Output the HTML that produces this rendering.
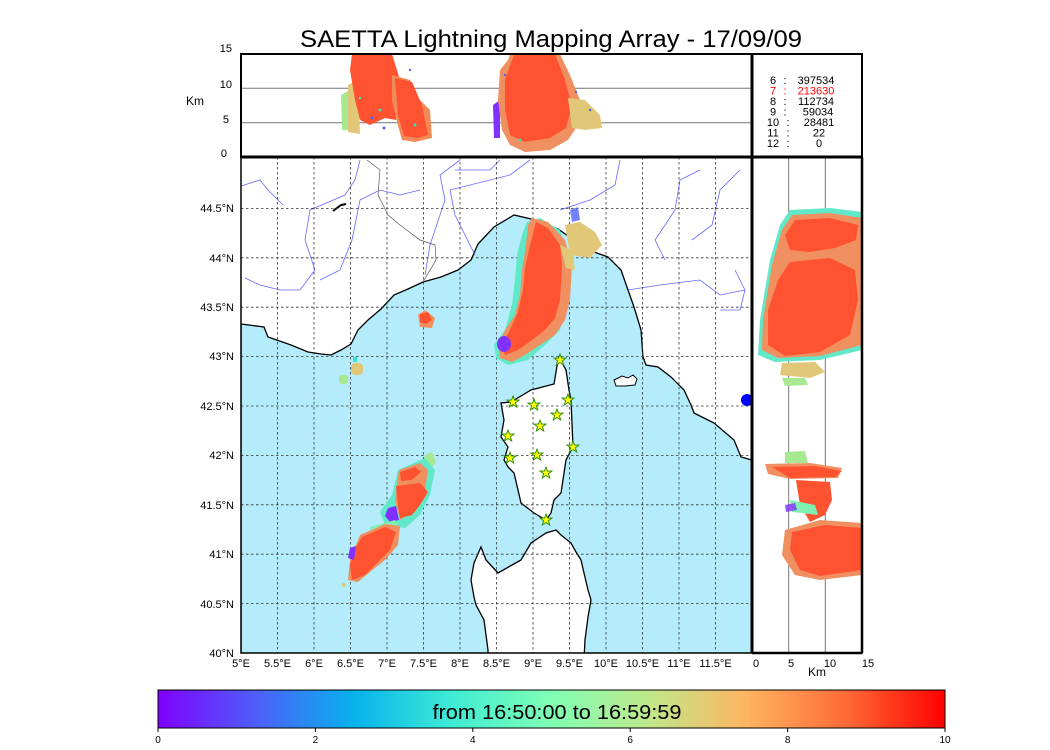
<!DOCTYPE html>
<html><head><meta charset="utf-8"><style>
html,body{margin:0;padding:0;background:#fff;}
svg{display:block;font-family:"Liberation Sans",sans-serif;}
</style></head><body>
<svg width="1050" height="750" viewBox="0 0 1050 750" xmlns="http://www.w3.org/2000/svg">
<defs>
<linearGradient id="rb" x1="0" x2="1" y1="0" y2="0">
<stop offset="0" stop-color="#8000ff"/><stop offset="0.125" stop-color="#4d5ffa"/>
<stop offset="0.25" stop-color="#06b3ec"/><stop offset="0.375" stop-color="#40ecd4"/>
<stop offset="0.5" stop-color="#80ffb4"/><stop offset="0.625" stop-color="#c0e88a"/>
<stop offset="0.75" stop-color="#ffb360"/><stop offset="0.875" stop-color="#ff6a35"/>
<stop offset="1" stop-color="#ff0000"/></linearGradient>
<clipPath id="cm"><rect x="241" y="157" width="511" height="496"/></clipPath>
<clipPath id="ct"><rect x="241" y="54" width="511" height="103"/></clipPath>
<clipPath id="cr"><rect x="752" y="157" width="110" height="496"/></clipPath>
</defs>
<text x="551" y="47" font-size="24.5" text-anchor="middle" textLength="502" lengthAdjust="spacingAndGlyphs">SAETTA Lightning Mapping Array - 17/09/09</text>

<!-- TOP PANEL -->
<g clip-path="url(#ct)">
<line x1="241" x2="752" y1="122.7" y2="122.7" stroke="#777" stroke-width="1"/>
<line x1="241" x2="752" y1="88.3" y2="88.3" stroke="#777" stroke-width="1"/>
<polygon points="341,95 350,90 352,130 342,130" fill="#a8e890"/>
<polygon points="348,85 358,80 360,134 348,132" fill="#e0c878"/>
<polygon points="352,54 392,54 400,80 396,120 385,118 370,125 360,120 355,100 350,70" fill="#ff5230"/>
<polygon points="392,75 410,80 420,100 430,110 432,138 415,142 402,140 396,118 392,100" fill="#f08a58"/>
<polygon points="395,78 412,82 422,105 428,135 418,138 404,136 398,115" fill="#ff5230"/>
<polygon points="493,105 500,100 500,138 494,138" fill="#8030ff"/>
<polygon points="500,70 508,60 510,54 560,54 570,75 580,100 578,125 568,140 550,150 525,152 510,145 502,130 498,100" fill="#f09060"/>
<polygon points="505,80 512,60 515,54 555,54 565,80 572,105 566,128 550,138 525,142 510,135 505,110" fill="#ff5230"/>
<polygon points="568,98 585,100 600,115 602,128 585,130 572,128" fill="#e0c878"/>
<g fill="#5060ff"><circle cx="505" cy="75" r="1.2"/><circle cx="576" cy="92" r="1.2"/><circle cx="590" cy="110" r="1.2"/><circle cx="372" cy="118" r="1.5"/><circle cx="410" cy="70" r="1.2"/><circle cx="384" cy="128" r="1.5"/></g>
<g fill="#40e0c0"><circle cx="380" cy="110" r="1.5"/><circle cx="520" cy="140" r="1.5"/><circle cx="415" cy="125" r="1.5"/><circle cx="360" cy="98" r="1.2"/></g>
</g>
<rect x="241" y="54" width="621" height="103" fill="none" stroke="#000" stroke-width="2"/>
<line x1="752" x2="752" y1="54" y2="157" stroke="#000" stroke-width="3"/>
<g font-size="11" text-anchor="end">
<text x="232" y="52">15</text><text x="232" y="88">10</text><text x="229" y="123">5</text><text x="227" y="157">0</text>
</g>
<text x="186" y="105" font-size="12">Km</text>
<g font-size="11">
<g text-anchor="middle"><text x="773" y="84">6</text><text x="773" y="94.5" fill="#f00">7</text><text x="773" y="105">8</text><text x="773" y="115.5">9</text><text x="773" y="126">10</text><text x="773" y="136.5">11</text><text x="773" y="147">12</text></g>
<g text-anchor="middle"><text x="785" y="84">:</text><text x="785" y="94.5" fill="#f00">:</text><text x="785" y="105">:</text><text x="785" y="115.5">:</text><text x="788" y="126">:</text><text x="788" y="136.5">:</text><text x="788" y="147">:</text></g>
<g text-anchor="middle"><text x="816" y="84">397534</text><text x="816" y="94.5" fill="#f00">213630</text><text x="816" y="105">112734</text><text x="818" y="115.5">59034</text><text x="819" y="126">28481</text><text x="819" y="136.5">22</text><text x="819" y="147">0</text></g>
</g>

<!-- MAP -->
<g clip-path="url(#cm)">
<rect x="241" y="157" width="511" height="496" fill="#fff"/>
<polygon fill="#b4ecfc" stroke="#000" stroke-width="1.3" points="241,324 264,327 268,337 291,345 308,352 321,354 331,355 341,350 351,344 358,330 368,320 381,309 394,295 408,289 423,282 441,277 458,270 471,260 478,244 494,227 514,215 531,219 558,229 574,240 594,252 608,257 621,270 628,290 634,307 641,330 643,357 646,365 658,367 671,377 684,390 691,405 694,413 714,423 734,440 741,457 752,460 752,660 241,660"/>
<g fill="none" stroke="#4040ff" stroke-width="0.8" opacity="0.8">
<path d="M241,186 L260,180 268,190 283,205"/>
<path d="M360,160 L355,180 345,195 310,210 305,240 315,270 300,290 280,290 260,285 245,278"/>
<path d="M420,190 L400,195 380,190 360,200 352,240 340,270 320,280"/>
<path d="M460,160 L440,175 445,200 430,245 425,275"/>
<path d="M500,160 L490,170 455,170"/>
<path d="M530,160 L510,175 450,190 455,215 475,255"/>
<path d="M620,160 L615,185 590,200 560,210"/>
<path d="M700,170 L680,180 675,210 655,240 665,260"/>
<path d="M740,170 L720,190 712,225 692,240"/>
<path d="M628,290 L660,285 700,280 720,295 745,290"/>
<path d="M735,270 L745,290 740,310 720,310"/>
<path d="M525,558 L535,570 532,590 530,610"/>
<path d="M560,597 L545,610 535,640 528,653"/>
<path d="M530,430 L545,437 560,450 573,447"/>
</g>
<path d="M367,160 L380,170 378,195 388,215 400,225 420,240 435,245 436,260 423,282" fill="none" stroke="#555" stroke-width="0.7"/>
<polygon fill="#fff" stroke="#000" stroke-width="1.3" points="559,357 566,370 569,390 571,400 573,447 566,460 561,493 554,500 551,513 546,520 534,513 521,503 518,490 514,473 508,467 504,460 508,447 501,437 504,420 501,403 511,402 531,390 554,384 558,360"/>
<polygon fill="#fff" stroke="#000" stroke-width="1.3" points="546,533 556,530 561,535 571,543 576,552 581,560 584,573 588,590 591,600 588,617 585,640 584,660 488,660 488,650 484,620 476,605 474,597 471,580 474,563 481,547 486,560 498,573 512,565 521,560 531,543"/>
<polygon fill="#fff" stroke="#000" stroke-width="1" points="614,380 622,376 628,378 633,375 637,379 635,385 625,386 616,386"/>
<ellipse cx="747" cy="400" rx="6" ry="6" fill="#0000ff"/>
<path d="M333,211 L341,205 346,204" stroke="#000" stroke-width="2" fill="none"/>
<g stroke="#333" stroke-width="0.8" stroke-dasharray="2.5,2.5">
<line x1="277.5" x2="277.5" y1="157" y2="653"/><line x1="314" x2="314" y1="157" y2="653"/><line x1="350.5" x2="350.5" y1="157" y2="653"/><line x1="387" x2="387" y1="157" y2="653"/><line x1="423.5" x2="423.5" y1="157" y2="653"/><line x1="460" x2="460" y1="157" y2="653"/><line x1="496.5" x2="496.5" y1="157" y2="653"/><line x1="533" x2="533" y1="157" y2="653"/><line x1="569.5" x2="569.5" y1="157" y2="653"/><line x1="606" x2="606" y1="157" y2="653"/><line x1="642.5" x2="642.5" y1="157" y2="653"/><line x1="679" x2="679" y1="157" y2="653"/><line x1="715.5" x2="715.5" y1="157" y2="653"/>
<line x1="241" x2="752" y1="603.6" y2="603.6"/><line x1="241" x2="752" y1="554.2" y2="554.2"/><line x1="241" x2="752" y1="504.8" y2="504.8"/><line x1="241" x2="752" y1="455.4" y2="455.4"/><line x1="241" x2="752" y1="406" y2="406"/><line x1="241" x2="752" y1="356.6" y2="356.6"/><line x1="241" x2="752" y1="307.2" y2="307.2"/><line x1="241" x2="752" y1="257.8" y2="257.8"/><line x1="241" x2="752" y1="208.4" y2="208.4"/>
</g>
<polygon fill="#e0c878" points="565,225 580,222 595,232 602,245 590,258 570,255"/>
<polygon fill="#5060ff" points="570,210 578,207 580,220 572,222" opacity="0.8"/>
<polygon fill="#60e8c8" points="527,222 540,218 560,230 570,260 566,305 560,330 545,345 528,360 508,365 496,358 494,345 505,330 512,305 515,280 517,255 522,235"/>
<polygon fill="#f09060" points="532,218 548,222 565,240 572,265 570,300 565,320 555,335 540,345 525,355 512,362 500,358 498,345 505,330 515,315 520,295 522,270 526,245 528,225"/>
<polygon fill="#ff5230" points="536,222 548,228 560,245 562,265 560,300 555,318 545,330 532,340 518,350 505,355 502,345 510,330 518,312 523,290 525,268 530,245"/>
<polygon fill="#e0c878" points="560,245 572,250 575,270 566,268"/>
<ellipse cx="504" cy="344" rx="7" ry="8" fill="#8030ff"/>
<polygon fill="#f09060" points="418,315 425,310 435,318 432,328 420,327"/>
<polygon fill="#ff5230" points="420,314 428,312 432,320 426,324 420,322"/>
<rect x="351" y="363" width="12" height="12" rx="4" fill="#e0c878"/>
<rect x="339" y="375" width="9" height="9" rx="3" fill="#a8e890"/>
<rect x="353" y="357" width="4" height="5" fill="#40e0d0"/>
<polygon fill="#a8e890" points="425,455 432,452 436,462 430,470 422,468"/>
<polygon fill="#60e8c8" points="398,470 425,458 435,470 430,495 420,515 405,528 385,525 380,512 392,495"/>
<polygon fill="#f09060" points="399,470 420,463 428,470 425,490 415,510 400,520 395,500"/>
<polygon fill="#ff5230" points="400,472 415,467 421,472 412,480 401,481"/>
<polygon fill="#ff5230" points="396,486 420,483 428,492 420,505 412,515 400,518 398,505"/>
<polygon fill="#8030ff" points="388,508 396,506 399,520 390,522 385,516"/>
<polygon fill="#80f0b0" points="370,527 395,520 400,530 385,540 372,540"/>
<polygon fill="#f09060" points="360,535 385,524 400,526 398,545 385,560 370,572 358,582 348,580 350,560"/>
<polygon fill="#ff5230" points="362,537 385,527 396,532 390,550 378,562 365,575 352,580 350,565 355,548"/>
<polygon fill="#8030ff" points="350,548 356,546 354,560 348,558"/>
<circle cx="344" cy="585" r="2" fill="#e0c878"/>
<g fill="#ffff00" stroke="#228800" stroke-width="0.9">
<path id="st" d="M0,-6 L1.5,-2 6,-1.9 2.4,0.8 3.7,5 0,2.5 -3.7,5 -2.4,0.8 -6,-1.9 -1.5,-2Z" transform="translate(560,360)"/>
<use href="#st" x="-47" y="42"/><use href="#st" x="-26" y="45"/><use href="#st" x="8" y="40"/><use href="#st" x="-3" y="55"/><use href="#st" x="-20" y="66"/><use href="#st" x="-52" y="76"/><use href="#st" x="13" y="87"/><use href="#st" x="-23" y="95"/><use href="#st" x="-50" y="98"/><use href="#st" x="-14" y="113"/><use href="#st" x="-14" y="160"/>
</g>
</g>

<!-- RIGHT PANEL -->
<g clip-path="url(#cr)">
<line x1="788.7" x2="788.7" y1="157" y2="653" stroke="#777"/>
<line x1="825.3" x2="825.3" y1="157" y2="653" stroke="#777"/>
<polygon fill="#60e8c8" points="790,210 830,208 862,212 862,350 820,360 775,362 758,355 760,320 770,260 780,225"/>
<polygon fill="#f09060" points="792,215 830,213 862,218 862,345 820,356 778,358 762,350 763,320 772,265 782,230"/>
<polygon fill="#ff5230" points="795,220 830,218 858,225 856,240 835,248 810,252 790,250 785,235"/>
<polygon fill="#ff5230" points="790,262 830,258 855,270 858,300 850,335 820,352 785,356 768,345 768,310 778,280"/>
<polygon fill="#e0c878" points="782,363 815,362 825,372 810,378 780,375"/>
<polygon fill="#a8e890" points="782,378 805,378 808,385 785,386"/>
<polygon fill="#a8e890" points="785,452 805,451 808,463 785,463"/>
<polygon fill="#f09060" points="765,464 810,463 842,468 838,478 790,479 768,474"/>
<polygon fill="#ff5230" points="772,467 815,466 842,471 835,477 790,478"/>
<polygon fill="#ff5230" points="796,480 830,482 832,500 825,515 810,522 800,505"/>
<polygon fill="#80f0b0" points="790,500 815,505 818,515 792,512"/>
<polygon fill="#8030ff" points="785,505 795,503 797,510 786,512" opacity="0.8"/>
<polygon fill="#f09060" points="785,530 820,520 862,523 862,575 820,580 795,575 782,555"/>
<polygon fill="#ff5230" points="792,532 825,525 862,528 862,570 820,576 800,570 790,550"/>
</g>
<rect x="241" y="157" width="621" height="496" fill="none" stroke="#000" stroke-width="1.5"/>
<line x1="241" x2="862" y1="157" y2="157" stroke="#000" stroke-width="3"/>
<line x1="752" x2="752" y1="157" y2="653" stroke="#000" stroke-width="3"/>
<line x1="752" x2="862" y1="653" y2="653" stroke="#000" stroke-width="2.5"/>
<line x1="862" x2="862" y1="157" y2="653" stroke="#000" stroke-width="2.5"/>

<g font-size="11" text-anchor="end">
<text x="234" y="212">44.5°N</text><text x="234" y="262">44°N</text><text x="234" y="311">43.5°N</text><text x="234" y="360">43°N</text><text x="234" y="410">42.5°N</text><text x="234" y="459">42°N</text><text x="234" y="509">41.5°N</text><text x="234" y="558">41°N</text><text x="234" y="608">40.5°N</text><text x="234" y="657">40°N</text>
</g>
<g font-size="11" text-anchor="middle">
<text x="241" y="667">5°E</text><text x="277.5" y="667">5.5°E</text><text x="314" y="667">6°E</text><text x="350.5" y="667">6.5°E</text><text x="387" y="667">7°E</text><text x="423.5" y="667">7.5°E</text><text x="460" y="667">8°E</text><text x="496.5" y="667">8.5°E</text><text x="533" y="667">9°E</text><text x="569.5" y="667">9.5°E</text><text x="606" y="667">10°E</text><text x="642.5" y="667">10.5°E</text><text x="679" y="667">11°E</text><text x="715.5" y="667">11.5°E</text>
<text x="756" y="667">0</text><text x="791" y="667">5</text><text x="830" y="667">10</text><text x="868" y="667">15</text>
</g>
<text x="817" y="676" font-size="12" text-anchor="middle">Km</text>

<rect x="158" y="690" width="787" height="38" fill="url(#rb)" stroke="#000" stroke-width="1"/>
<text x="557" y="719" font-size="20" text-anchor="middle" textLength="249" lengthAdjust="spacingAndGlyphs">from 16:50:00 to 16:59:59</text>
<g stroke="#000"><line x1="158" x2="158" y1="728" y2="732"/><line x1="315.4" x2="315.4" y1="728" y2="732"/><line x1="472.8" x2="472.8" y1="728" y2="732"/><line x1="630.2" x2="630.2" y1="728" y2="732"/><line x1="787.6" x2="787.6" y1="728" y2="732"/><line x1="945" x2="945" y1="728" y2="732"/></g>
<g font-size="10" text-anchor="middle"><text x="158" y="743">0</text><text x="315.4" y="743">2</text><text x="472.8" y="743">4</text><text x="630.2" y="743">6</text><text x="787.6" y="743">8</text><text x="945" y="743">10</text></g>
</svg>
</body></html>
